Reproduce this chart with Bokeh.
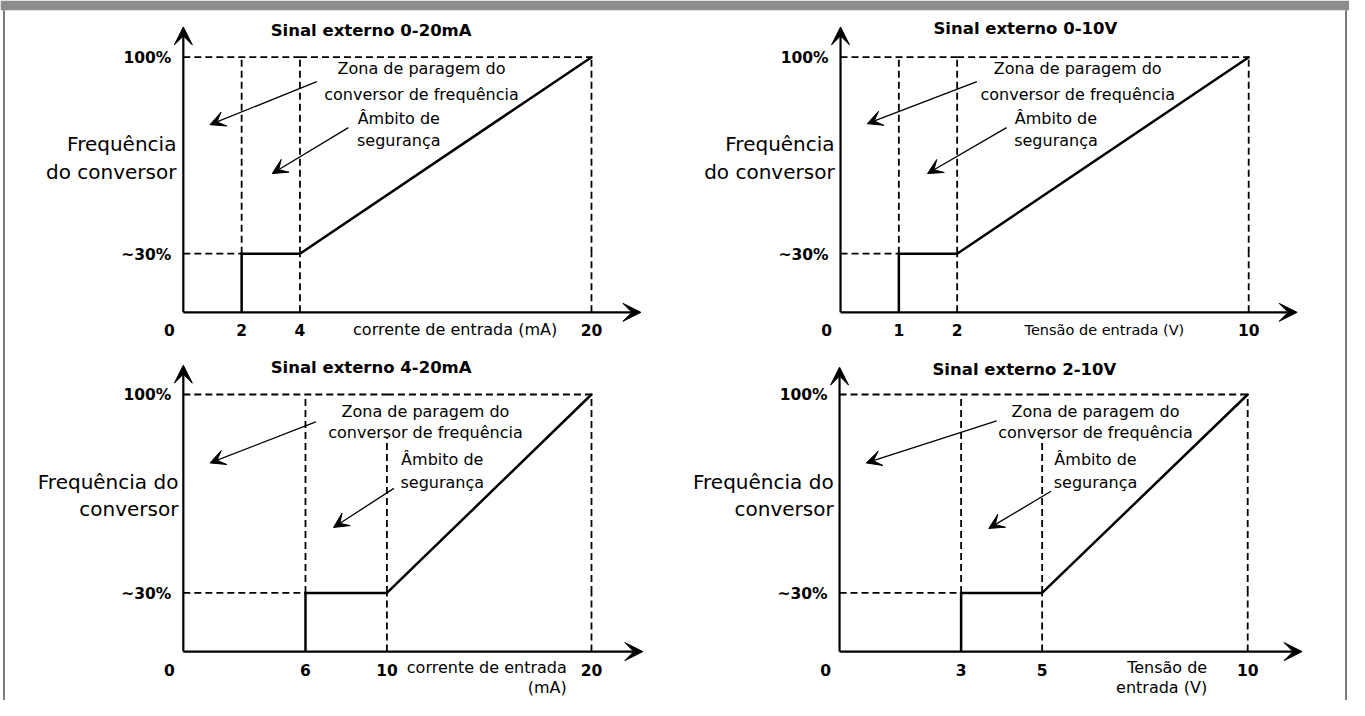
from bokeh.plotting import figure
from bokeh.models import Range1d, Arrow, VeeHead
from bokeh.core.properties import value
from bokeh.embed import file_html
from bokeh.resources import INLINE

# ---------------- data ----------------
panel_titles = ["Sinal externo 0-20mA", "Sinal externo 0-10V",
                "Sinal externo 4-20mA", "Sinal externo 2-10V"]
x_tick_values = [[0, 2, 4, 20], [0, 1, 2, 10], [0, 6, 10, 20], [0, 3, 5, 10]]
x_tick_labels = [["0", "2", "4", "20"], ["0", "1", "2", "10"],
                 ["0", "6", "10", "20"], ["0", "3", "5", "10"]]
stop_signal = [2, 1, 6, 3]      # below this the converter stops
safe_signal = [4, 2, 10, 5]     # end of the safety range
full_signal = [20, 10, 20, 10]  # full-scale input
min_freq_pct = 30
max_freq_pct = 100
y_tick_labels = ["~30%", "100%"]
x_titles = [["corrente de entrada (mA)"], ["Tensão de entrada (V)"],
            ["corrente de entrada", "(mA)"], ["Tensão de", "entrada (V)"]]
y_titles = [["Frequência", "do conversor"], ["Frequência", "do conversor"],
            ["Frequência do", "conversor"], ["Frequência do", "conversor"]]
zone_lines = ["Zona de paragem do", "conversor de frequência"]
safe_lines = ["Âmbito de", "segurança"]

# ---------------- layout (reference-page pixels) ----------------
layouts = [
    dict(ox=185, oy=319, bx=303, fx=598, y30=259, y100=58, xt=648, yt=27,
         title=(375, 31), ytr=178, yty=[147, 175], xta="center", xtx=460, xty=[337], xfs="16px",
         zone=(426, [70, 96]), safe=(403, [121, 143]), dash_top=100,
         arrows=[(320, 83, 212, 127), (352, 130, 275, 177)]),
    dict(ox=850, oy=319, bx=968, fx=1263, y30=259, y100=58, xt=1312, yt=27,
         title=(1037, 29), ytr=844, yty=[147, 175], xta="center", xtx=1117, xty=[337], xfs="14.5px",
         zone=(1090, [70, 96]), safe=(1068, [121, 143]), dash_top=100,
         arrows=[(988, 83, 877, 126), (1018, 130, 938, 177)]),
    dict(ox=185, oy=666, bx=391, fx=598, y30=606, y100=403, xt=650, yt=373,
         title=(375, 375), ytr=180, yty=[493, 520], xta="right", xtx=573, xty=[682, 703], xfs="16px",
         zone=(430, [420, 442]), safe=(447, [469, 493]), dash_top=85,
         arrows=[(319, 431, 212, 473), (398, 499, 337, 539)]),
    dict(ox=849, oy=666, bx=1054, fx=1262, y30=606, y100=403, xt=1317, yt=375,
         title=(1036, 377), ytr=843, yty=[493, 520], xta="right", xtx=1221, xty=[682, 703], xfs="16px",
         zone=(1108, [420, 442]), safe=(1108, [469, 493]), dash_top=85,
         arrows=[(1008, 430, 876, 473), (1063, 502, 1000, 540)]),
]

FONT = value("DejaVu Sans")
INK = "#000000"
DASH = "7 4"
PX0, PX1, PY0, PY1 = 0, 1365, 716, 0


def make_range(d1, p1, d2, p2, lo, hi):
    k = (d2 - d1) / (p2 - p1)
    return Range1d(start=d1 + (lo - p1) * k, end=d1 + (hi - p1) * k)


p = figure(width=1349, height=700, x_range=Range1d(PX0, PX1), y_range=Range1d(PY0, PY1),
           x_axis_location=None, y_axis_location=None, toolbar_location=None,
           output_backend="svg", min_border=0, outline_line_color=None,
           background_fill_color="white", border_fill_color="white")
p.grid.visible = False

# frame decoration
p.quad(left=[PX0], right=[PX1], top=[PY1], bottom=[10], fill_color="#8c8c8c", line_color=None)
p.line([3.5, 3.5], [10, PY0], line_color="#505050", line_width=1.5)
p.line([1361.5, 1361.5], [10, PY0], line_color="#505050", line_width=1.5)

xr, yr = {}, {}
for i, L in enumerate(layouts):
    s, st, f = safe_signal[i], stop_signal[i], full_signal[i]
    lo, hi = min_freq_pct, max_freq_pct
    xr[f"x{i}a"] = make_range(0, L["ox"], s, L["bx"], PX0, PX1)
    xr[f"x{i}b"] = make_range(s, L["bx"], f, L["fx"], PX0, PX1)
    yr[f"y{i}a"] = make_range(0, L["oy"], lo, L["y30"], PY0, PY1)
    yr[f"y{i}b"] = make_range(lo, L["y30"], hi, L["y100"], PY0, PY1)

    def rn(xv, yv, i=i, s=s, lo=lo):
        return dict(x_range_name=f"x{i}{'a' if xv <= s else 'b'}",
                    y_range_name=f"y{i}{'a' if yv <= lo else 'b'}")

    dash = dict(line_color=INK, line_width=1.8, line_dash=DASH)
    # 100% guide
    p.line([0, s], [hi, hi], **rn(0, hi), **dash)
    p.line([s, f], [hi, hi], **rn(f, hi), **dash)
    # ~30% guide
    p.line([0, st], [lo, lo], **rn(0, 0), **dash)
    # vertical guides
    p.line([st, st], [lo, hi], **rn(st, hi), **dash)
    p.line([s, s], [0, lo], **rn(s, 0), **dash)
    p.line([s, s], [lo, L["dash_top"]], **rn(s, hi), **dash)
    p.line([f, f], [0, lo], **rn(f, 0), **dash)
    p.line([f, f], [lo, hi], **rn(f, hi), **dash)

    # characteristic curve
    p.line([st, st, s], [0, lo, lo], line_color="black", line_width=2.5,
           line_join="miter", **rn(0, 0))
    p.line([s, f], [lo, hi], line_color="black", line_width=2.5, line_cap="round", **rn(f, hi))

    # axes
    for (x1, y1) in [(L["xt"], L["oy"]), (L["ox"], L["yt"])]:
        p.add_layout(Arrow(x_start=L["ox"], y_start=L["oy"], x_end=x1, y_end=y1,
                           line_color="black", line_width=2.2,
                           end=VeeHead(size=18, fill_color="black", line_color="black", line_width=1)))

    # tick labels
    for v, t in zip(x_tick_values[i], x_tick_labels[i]):
        p.text(x=[v], y=[0], text=[t], x_offset=-14 if v == 0 else 0, y_offset=18,
               text_font=FONT, text_font_style="bold", text_font_size="15.5px", text_color=INK,
               text_align="center", text_baseline="middle", **rn(v, 0))
    for v, t in zip([lo, hi], y_tick_labels):
        p.text(x=[0], y=[v], text=[t], x_offset=-12, y_offset=1,
               text_font=FONT, text_font_style="bold", text_font_size="15.5px", text_color=INK,
               text_align="right", text_baseline="middle", **rn(0, v))

    # titles
    p.text(x=[L["title"][0]], y=[L["title"][1]], text=[panel_titles[i]], text_font=FONT,
           text_font_style="bold", text_font_size="16.5px", text_color=INK,
           text_align="center", text_baseline="middle")
    p.text(x=[L["ytr"]] * 2, y=L["yty"], text=y_titles[i], text_font=FONT,
           text_font_size="20px", text_color=INK, text_align="right", text_baseline="middle")
    p.text(x=[L["xtx"]] * len(x_titles[i]), y=L["xty"], text=x_titles[i], text_font=FONT,
           text_font_size=L["xfs"], text_color=INK, text_align=L["xta"], text_baseline="middle")
    p.text(x=[L["zone"][0]] * 2, y=L["zone"][1], text=zone_lines, text_font=FONT,
           text_font_size="16px", text_color=INK, text_align="center", text_baseline="middle")
    p.text(x=[L["safe"][0]] * 2, y=L["safe"][1], text=safe_lines, text_font=FONT,
           text_font_size="16px", text_color=INK, text_align="center", text_baseline="middle")

    for (x0, y0, x1, y1) in L["arrows"]:
        p.add_layout(Arrow(x_start=x0, y_start=y0, x_end=x1, y_end=y1,
                           line_color="black", line_width=1.3,
                           end=VeeHead(size=15, fill_color="black", line_color="black", line_width=1)))

p.extra_x_ranges = xr
p.extra_y_ranges = yr

open("out.html", "w").write(file_html(p, INLINE))
